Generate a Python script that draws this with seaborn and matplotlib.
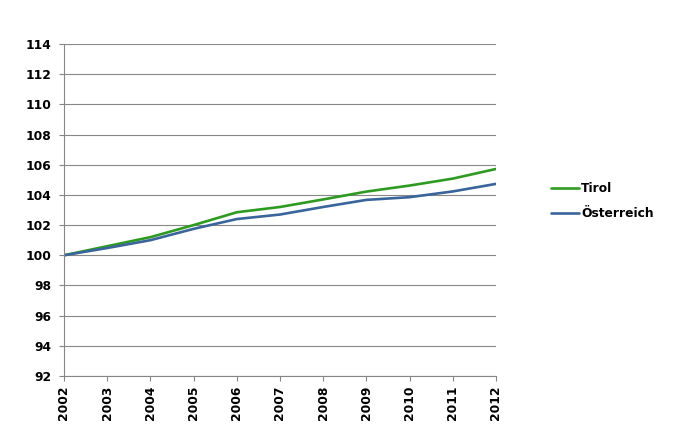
import matplotlib
matplotlib.use("Agg")
import matplotlib.pyplot as plt
import seaborn as sns
import pandas as pd

years = [2002, 2003, 2004, 2005, 2006, 2007, 2008, 2009, 2010, 2011, 2012]
tirol = [100.0, 100.6, 101.2, 102.0, 102.85, 103.2, 103.7, 104.22, 104.62, 105.08, 105.72]
oesterreich = [100.0, 100.48, 101.0, 101.75, 102.4, 102.7, 103.2, 103.67, 103.85, 104.23, 104.73]
series_names = ["Tirol", "Österreich"]
y_ticks = [92, 94, 96, 98, 100, 102, 104, 106, 108, 110, 112, 114]

df = pd.DataFrame({
    "Jahr": years * 2,
    "Wert": tirol + oesterreich,
    "Region": [series_names[0]] * len(years) + [series_names[1]] * len(years),
})

sns.set_theme(style="white")
plt.rcParams['font.family'] = ['DejaVu Sans']
plt.rcParams['text.color'] = 'black'

fig = plt.figure(figsize=(6.88, 4.32), dpi=100)
ax = fig.add_axes([64/688, 1-376/432, (496-64)/688, (376-44)/432])

palette = {"Tirol": "#2f9a22", "Österreich": "#3a659a"}
sns.lineplot(data=df, x="Jahr", y="Wert", hue="Region", palette=palette,
             linewidth=1.9, ax=ax, legend=False)

fs = 8.8
ax.set_xlim(2002, 2012)
ax.set_ylim(92, 114)
ax.set_yticks(y_ticks)
ax.set_xticks(years)
ax.set_xticklabels([str(y) for y in years], rotation=90, fontsize=fs, fontweight="bold")
ax.set_yticklabels([str(v) for v in y_ticks], fontsize=fs, fontweight="bold")
ax.set_xlabel("")
ax.set_ylabel("")

grid_c = "#868686"
ax.grid(axis="y", color=grid_c, linewidth=0.8)
ax.grid(axis="x", visible=False)
ax.set_axisbelow(True)
for s in ["top", "right"]:
    ax.spines[s].set_visible(False)
for s in ["left", "bottom"]:
    ax.spines[s].set_color(grid_c)
    ax.spines[s].set_linewidth(0.8)
ax.tick_params(axis="y", which="both", direction="out", length=3.8, width=0.8,
               color=grid_c, labelcolor="black", pad=5.5, left=True)
ax.tick_params(axis="x", which="both", direction="out", length=3.8, width=0.8,
               color=grid_c, labelcolor="black", pad=3, bottom=True)

from matplotlib.lines import Line2D
handles = [Line2D([], [], color=palette[n], linewidth=1.9) for n in series_names]
leg = fig.legend(handles, series_names, loc="center left",
                 bbox_to_anchor=(540/688, 1-201/432), frameon=False,
                 prop={"size": fs, "weight": "bold"}, handlelength=2.3,
                 handletextpad=0.15, labelspacing=1.0)
for t in leg.get_texts():
    t.set_color("black")

fig.savefig("out.png", dpi=100, facecolor="white")
